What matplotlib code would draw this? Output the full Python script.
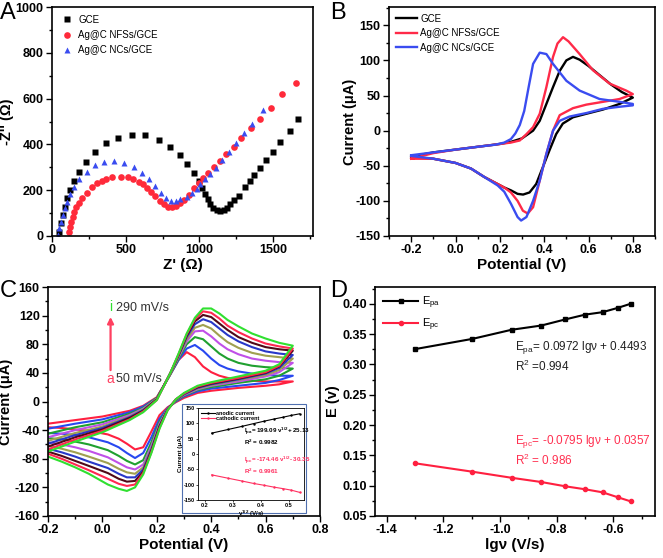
import numpy as np
import matplotlib.pyplot as plt
from matplotlib.ticker import MultipleLocator
from matplotlib.patches import Rectangle

plt.rcParams['font.family'] = ['Liberation Sans', 'DejaVu Sans']
plt.rcParams['font.weight'] = 'bold'
plt.rcParams['axes.labelweight'] = 'bold'
plt.rcParams['mathtext.default'] = 'regular'
plt.rcParams['axes.unicode_minus'] = False

# ---------- A: Nyquist plots ----------
gce_zr = [45, 59, 72, 86, 101, 120, 147, 181, 230, 289, 366, 445, 543, 628, 723, 803, 870, 914, 961,
          995, 1018, 1040, 1056, 1074, 1095, 1118, 1142, 1164, 1187, 1210, 1237, 1266, 1311, 1345,
          1373, 1409, 1454, 1499, 1549, 1617, 1667]
gce_zi = [19, 55, 92, 128, 164, 200, 240, 280, 323, 365, 404, 430, 443, 440, 419, 390, 353, 313, 276,
          240, 211, 182, 161, 140, 123, 113, 109, 113, 123, 138, 157, 176, 215, 240,
          266, 298, 330, 368, 411, 458, 509]
nfs_zr = [117, 124, 131, 140, 151, 165, 181, 203, 237, 271, 305, 339, 368, 407, 470, 516, 549, 588,
          617, 645, 674, 701, 730, 757, 786, 814, 841, 870, 893, 927, 961, 995, 1024, 1056, 1096,
          1137, 1183, 1232, 1284, 1350, 1413, 1486, 1562, 1657]
nfs_zi = [19, 41, 62, 84, 106, 125, 143, 164, 186, 215, 230, 240, 249, 256, 259, 256, 247, 237,
          225, 211, 193, 174, 154, 138, 128, 125, 131, 143, 157, 179, 208, 230, 252, 276, 300,
          327, 358, 390, 429, 470, 513, 560, 622, 669]
ncs_zr = [40, 50, 61, 72, 86, 101, 120, 147, 185, 235, 289, 352, 423, 490, 554, 610, 660, 701, 742,
          773, 809, 841, 870, 914, 950, 984, 1006, 1040, 1070, 1115, 1153, 1198, 1250, 1300, 1357, 1431]
ncs_zi = [4, 33, 62, 92, 121, 150, 182, 215, 249, 280, 310, 321, 328, 320, 300, 276, 247, 218, 189,
          167, 154, 153, 161, 171, 186, 205, 225, 247, 269, 298, 331, 368, 404, 448, 491, 552]

# ---------- B: CV of three electrodes ----------
gce_fx = [-0.2, -0.1, 0.0, 0.1, 0.2, 0.25, 0.3, 0.35, 0.38, 0.41, 0.44, 0.47, 0.5, 0.53, 0.56, 0.6, 0.65, 0.7, 0.75, 0.8]
gce_fy = [-37, -31, -27, -23, -19, -16, -11, 0, 14, 38, 62, 85, 100, 105, 101, 92, 79, 66, 55, 47]
gce_rx = [0.8, 0.74, 0.665, 0.59, 0.53, 0.484, 0.454, 0.424, 0.394, 0.364, 0.334, 0.305, 0.28, 0.25, 0.22, 0.19, 0.13, 0.07, 0.0, -0.1, -0.2]
gce_ry = [47, 38, 30, 24, 19, 10, -5, -28, -52, -76, -88, -91, -90, -85, -81, -76, -66, -54, -46, -40, -38]

nfs_fx = [-0.2, -0.1, 0.0, 0.1, 0.2, 0.25, 0.29, 0.32, 0.35, 0.38, 0.41, 0.44, 0.46, 0.485, 0.51, 0.56, 0.62, 0.695, 0.77, 0.8]
nfs_fy = [-40, -32, -27, -23, -19, -17, -14, -5, 5, 24, 62, 105, 124, 133, 127, 109, 86, 67, 57, 52]
nfs_rx = [0.8, 0.74, 0.665, 0.59, 0.53, 0.47, 0.44, 0.41, 0.38, 0.35, 0.326, 0.304, 0.28, 0.25, 0.22, 0.19, 0.13, 0.07, 0.0, -0.1, -0.2]
nfs_ry = [52, 45, 41, 37, 32, 22, 0, -33, -71, -109, -118, -114, -100, -88, -81, -76, -66, -54, -46, -40, -40]

ncs_fx = [-0.2, -0.1, 0.0, 0.1, 0.18, 0.22, 0.25, 0.27, 0.29, 0.31, 0.33, 0.35, 0.38, 0.41, 0.44, 0.5, 0.56, 0.65, 0.74, 0.8]
ncs_fy = [-35, -31, -27, -23, -20, -17, -12, -4, 8, 28, 62, 95, 111, 109, 95, 71, 57, 45, 41, 38]
ncs_rx = [0.8, 0.74, 0.665, 0.59, 0.514, 0.47, 0.44, 0.41, 0.38, 0.35, 0.32, 0.296, 0.28, 0.25, 0.22, 0.19, 0.13, 0.07, 0.0, -0.1, -0.2]
ncs_ry = [36, 34, 31, 25, 20, 14, 0, -33, -71, -100, -123, -128, -123, -104, -87, -78, -66, -54, -46, -40, -36]

# ---------- C: CV at different scan rates (a..i) ----------
c_fx = [-0.2, -0.1, 0.0, 0.1, 0.15, 0.2, 0.25, 0.28, 0.31, 0.34, 0.37, 0.40, 0.43, 0.46, 0.5, 0.55, 0.6, 0.65, 0.7]
c_fwd_a = [-31, -26, -21, -13, -6, 6, 38, 58, 69, 62, 49, 41, 36, 33, 30, 29, 28, 28, 28]
c_fwd_b = [-38, -31, -25, -15, -7, 5, 38, 58, 74, 79, 71, 60, 51, 46, 42, 39, 37, 36, 36]
c_fwd_c = [-45, -36, -29, -17, -9, 5, 38, 60, 80, 90, 87, 77, 67, 60, 54, 50, 48, 47, 46]
c_fwd_d = [-50, -40, -32, -19, -10, 4, 39, 62, 84, 98, 99, 91, 81, 73, 66, 60, 57, 55, 54]
c_fwd_e = [-55, -44, -35, -21, -11, 4, 39, 63, 87, 103, 107, 102, 92, 83, 75, 68, 64, 62, 60]
c_fwd_f = [-59, -47, -37, -22, -12, 3, 40, 64, 90, 108, 115, 111, 102, 93, 84, 76, 70, 67, 65]
c_fwd_g = [-63, -50, -39, -23, -13, 3, 40, 65, 92, 112, 121, 118, 109, 100, 90, 82, 76, 73, 71]
c_fwd_h = [-67, -53, -41, -25, -14, 2, 40, 66, 94, 115, 126, 124, 116, 106, 97, 88, 81, 77, 74]
c_fwd_i = [-70, -56, -43, -26, -15, 2, 40, 67, 95, 117, 130, 130, 123, 114, 105, 95, 88, 82, 78]

c_rx = [0.7, 0.65, 0.6, 0.5, 0.4, 0.35, 0.3, 0.27, 0.24, 0.21, 0.18, 0.15, 0.12, 0.09, 0.06, 0.02, -0.05, -0.1, -0.15, -0.2]
c_rev_a = [28, 24, 22, 19, 15, 12, 5, -1, -8, -19, -42, -64, -67, -59, -52, -46, -41, -39, -37, -36]
c_rev_b = [36, 30, 26, 22, 18, 14, 7, 0, -9, -24, -50, -72, -79, -72, -64, -57, -50, -47, -45, -44]
c_rev_c = [46, 36, 31, 26, 20, 16, 8, 1, -10, -28, -57, -82, -88, -83, -76, -68, -60, -56, -53, -51]
c_rev_d = [54, 41, 35, 28, 22, 17, 9, 2, -10, -31, -62, -88, -95, -92, -86, -78, -69, -64, -60, -57]
c_rev_e = [60, 44, 37, 30, 23, 18, 10, 2, -11, -33, -65, -92, -101, -99, -94, -86, -77, -71, -66, -62]
c_rev_f = [65, 47, 39, 31, 24, 19, 10, 2, -11, -34, -67, -95, -106, -106, -101, -93, -84, -77, -71, -66]
c_rev_g = [71, 49, 40, 32, 25, 20, 11, 3, -11, -35, -69, -98, -111, -112, -108, -100, -90, -83, -76, -70]
c_rev_h = [74, 50, 41, 33, 26, 21, 11, 3, -12, -37, -71, -100, -116, -118, -115, -108, -96, -88, -80, -73]
c_rev_i = [78, 52, 43, 35, 27, 22, 12, 3, -12, -38, -72, -102, -120, -125, -122, -116, -101, -92, -84, -77]
c_colors = ['#ff2040', '#2848f0', '#20a030', '#c050e8', '#a0a050', '#2838c8', '#500818', '#ff2850', '#30e030']

# inset: peak currents vs v^1/2
sqrt_v = [0.224, 0.283, 0.332, 0.374, 0.412, 0.447, 0.480, 0.510, 0.539]
ipa = [68, 80, 90, 99, 107, 114, 120, 126, 131]
ipc = [-68, -79, -88, -96, -102, -108, -113, -118, -125]

# ---------- D: peak potentials vs lg v ----------
lgv = [-1.301, -1.097, -0.959, -0.854, -0.770, -0.699, -0.638, -0.585, -0.538]
epa = [0.325, 0.342, 0.357, 0.364, 0.374, 0.382, 0.386, 0.393, 0.400]
epc = [0.137, 0.123, 0.113, 0.106, 0.099, 0.094, 0.089, 0.081, 0.074]

W, H = 663, 558
fig = plt.figure(figsize=(W / 100, H / 100), dpi=100)


def px_rect(l, t, r, b):
    return [l / W, 1 - b / H, (r - l) / W, (b - t) / H]


def style(ax, xmaj, xmin, ymaj, ymin):
    for s in ax.spines.values():
        s.set_linewidth(1.2)
    ax.xaxis.set_major_locator(MultipleLocator(xmaj))
    ax.xaxis.set_minor_locator(MultipleLocator(xmin))
    ax.yaxis.set_major_locator(MultipleLocator(ymaj))
    ax.yaxis.set_minor_locator(MultipleLocator(ymin))
    ax.tick_params(which='both', direction='out', width=1, labelsize=9, pad=2)
    ax.tick_params(which='major', length=4)
    ax.tick_params(which='minor', length=2.5)


# A
axA = fig.add_axes(px_rect(52, 7, 313, 236))
axA.plot(gce_zr, gce_zi, 's', color='black', ms=4.3, mec='none', label='GCE')
axA.plot(nfs_zr, nfs_zi, 'o', color='#ff2a3a', ms=4.8, mec='none', label='Ag@C NFSs/GCE')
axA.plot(ncs_zr, ncs_zi, '^', color='#3a4cf0', ms=4.8, mec='none', label='Ag@C NCs/GCE')
axA.set_xlim(0, 1770)
axA.set_ylim(0, 1000)
style(axA, 500, 250, 200, 100)
axA.set_xlabel("Z' (Ω)", fontsize=11, labelpad=1)
axA.set_ylabel("-Z'' (Ω)", fontsize=10.5)
axA.yaxis.set_label_coords(-0.145, 0.5)
axA.legend(loc='upper left', frameon=False, prop={'size': 7, 'weight': 'normal'},
           handletextpad=0.4, labelspacing=0.55, borderaxespad=0.4, handlelength=1.5)

# B
axB = fig.add_axes(px_rect(389, 7, 655, 236))
axB.plot(gce_fx + gce_rx, gce_fy + gce_ry, color='black', lw=1.7, label='GCE')
axB.plot(nfs_fx + nfs_rx, nfs_fy + nfs_ry, color='#ff2a48', lw=1.7, label='Ag@C NFSs/GCE')
axB.plot(ncs_fx + ncs_rx, ncs_fy + ncs_ry, color='#3a4cf0', lw=1.7, label='Ag@C NCs/GCE')
axB.set_xlim(-0.3, 0.9)
axB.set_ylim(-150, 176)
style(axB, 0.2, 0.1, 50, 25)
axB.set_xlabel('Potential (V)', fontsize=11, labelpad=1)
axB.set_ylabel('Current (μA)', fontsize=10.5)
axB.yaxis.set_label_coords(-0.12, 0.5)
axB.legend(loc='upper left', frameon=False, prop={'size': 7, 'weight': 'normal'},
           handletextpad=0.3, labelspacing=0.45, borderaxespad=0.3, handlelength=2.2)

# C
axC = fig.add_axes(px_rect(48, 287, 320, 516))
fwds = [c_fwd_a, c_fwd_b, c_fwd_c, c_fwd_d, c_fwd_e, c_fwd_f, c_fwd_g, c_fwd_h, c_fwd_i]
revs = [c_rev_a, c_rev_b, c_rev_c, c_rev_d, c_rev_e, c_rev_f, c_rev_g, c_rev_h, c_rev_i]
for fy, ry, col in zip(fwds, revs, c_colors):
    axC.plot(c_fx + c_rx, fy + ry, color=col, lw=1.5, solid_joinstyle='round')
axC.set_xlim(-0.2, 0.8)
axC.set_ylim(-160, 160)
style(axC, 0.2, 0.1, 40, 20)
axC.set_xlabel('Potential (V)', fontsize=11, labelpad=1)
axC.set_ylabel('Current (μA)', fontsize=10.5)
axC.yaxis.set_label_coords(-0.128, 0.5)
axC.annotate('', xy=(0.03, 122), xytext=(0.03, 40),
             arrowprops=dict(arrowstyle='-|>', color='#ff4060', lw=1.6, mutation_scale=9))
axC.text(0.03, 132, 'i', color='#30e030', fontsize=10, ha='center', va='center', fontweight='normal')
axC.text(0.03, 31, 'a', color='#ff4060', fontsize=10, ha='center', va='center', fontweight='normal')
axC.text(0.05, 131, '290 mV/s', color='#333333', fontsize=9, va='center', fontweight='normal')
axC.text(0.05, 31, '50 mV/s', color='#333333', fontsize=9, va='center', fontweight='normal')

# inset of C: white box with a blue frame, then the small axes on top
box = Rectangle((182 / W, 1 - 513 / H), 124 / W, 109 / H, transform=fig.transFigure,
                facecolor='white', edgecolor='#5070b0', lw=0.8, zorder=2)
fig.add_artist(box)
axI = fig.add_axes(px_rect(198, 408, 304, 500))
axI.set_zorder(3)
axI.plot(sqrt_v, ipa, '-', color='black', lw=0.8, marker='.', ms=1.5, label='anodic current')
axI.plot(sqrt_v, ipc, '-', color='#ff3060', lw=0.8, marker='.', ms=1.5, label='cathodic current')
axI.set_xlim(0.175, 0.555)
axI.set_ylim(-150, 150)
axI.xaxis.set_major_locator(MultipleLocator(0.1))
axI.yaxis.set_major_locator(MultipleLocator(50))
axI.tick_params(direction='out', length=1.5, width=0.5, labelsize=4, pad=1)
for s in axI.spines.values():
    s.set_linewidth(0.6)
axI.set_xlabel('v$^{1/2}$ (V/s)', fontsize=4.5, labelpad=0.5)
axI.set_ylabel('Current (μA)', fontsize=4.5, labelpad=0.5)
axI.legend(loc='upper left', frameon=False, prop={'size': 4, 'weight': 'bold'},
           handlelength=2.5, handletextpad=0.3, labelspacing=0.1, borderaxespad=0.1)
axI.text(0.34, 74, 'I$_{pa}$= 199.09 v$^{1/2}$+ 25.13', fontsize=4.5, va='center', color='black')
axI.text(0.34, 38, 'R$^{2}$ = 0.9982', fontsize=4.5, va='center', color='black')
axI.text(0.34, -20, 'I$_{pc}$= -174.46 v$^{1/2}$- 30.35', fontsize=4.5, va='center', color='#ff3060')
axI.text(0.34, -57, 'R$^{2}$ = 0.9961', fontsize=4.5, va='center', color='#ff3060')

# D
axD = fig.add_axes(px_rect(375, 287, 655, 516))
axD.plot(lgv, epa, '-s', color='black', lw=1.5, ms=3, label='E$_{pa}$')
axD.plot(lgv, epc, '-o', color='#ff2040', lw=1.5, ms=3, label='E$_{pc}$')
axD.set_xlim(-1.441, -0.453)
axD.set_ylim(0.05, 0.4275)
style(axD, 0.2, 0.1, 0.05, 0.025)
axD.set_xlabel('lgν (V/s)', fontsize=11, labelpad=1)
axD.set_ylabel('E (v)', fontsize=10.5)
axD.yaxis.set_label_coords(-0.125, 0.5)
axD.legend(loc='upper left', frameon=False, prop={'size': 8, 'weight': 'normal'},
           handlelength=3.2, handletextpad=0.3, labelspacing=0.5, borderaxespad=0.3)
axD.text(-0.947, 0.328, 'E$_{pa}$= 0.0972 lgν + 0.4493', fontsize=8.5, va='center',
         color='#222222', fontweight='normal')
axD.text(-0.947, 0.297, 'R$^{2}$ =0.994', fontsize=8.5, va='center', color='#222222', fontweight='normal')
axD.text(-0.947, 0.173, 'E$_{pc}$= -0.0795 lgν + 0.0357', fontsize=8.5, va='center',
         color='#ff3050', fontweight='normal')
axD.text(-0.947, 0.141, 'R$^{2}$ = 0.986', fontsize=8.5, va='center', color='#ff3050', fontweight='normal')

# panel letters
for lx, ly, letter in [(0, 2, 'A'), (330, 2, 'B'), (0, 280, 'C'), (330, 280, 'D')]:
    fig.text(lx / W, 1 - ly / H, letter, fontsize=17, fontweight='normal', va='top', ha='left')

fig.savefig('out.png', dpi=100)
